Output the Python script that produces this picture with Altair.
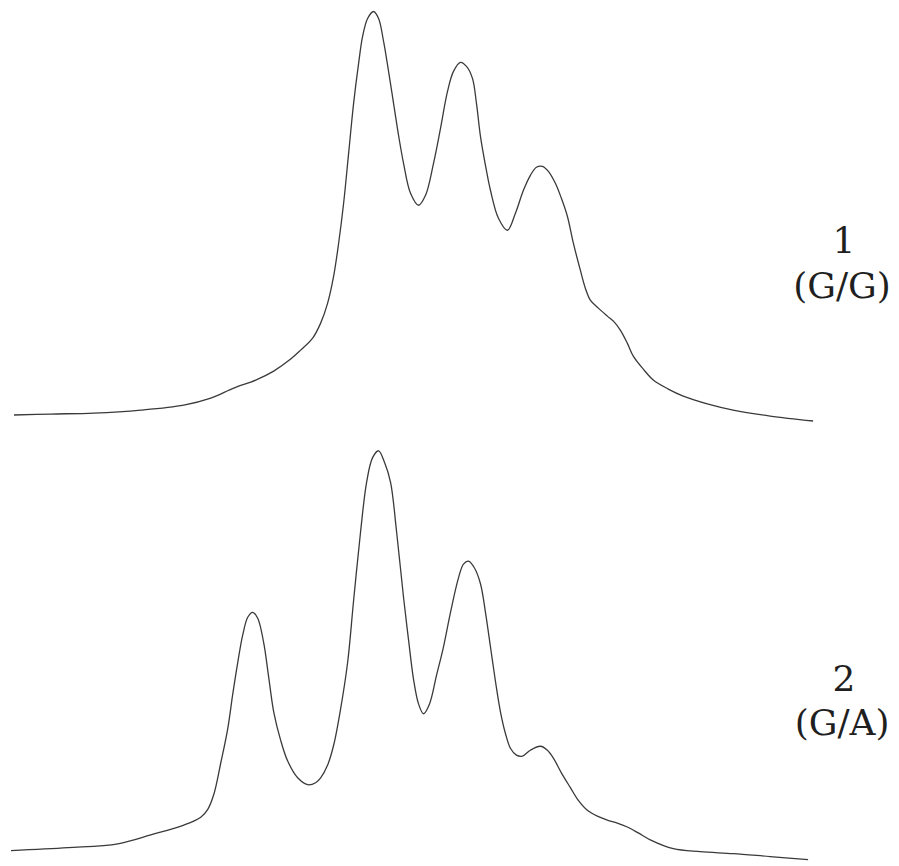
import altair as alt
import pandas as pd

# Trace 1 (G/G): elution position (a.u.) and detector signal (a.u.)
x_gg = [5, 42, 85, 132, 175, 202, 225, 247, 265, 282, 292, 304, 312, 319, 325, 330,
        335, 340, 345, 350, 354, 359, 365, 370, 375, 380, 385, 390, 395, 402, 410,
        417, 425, 432, 439, 445, 452, 458, 464, 468, 472, 477, 482, 490, 499, 507,
        515, 522, 528, 534, 540, 547, 553, 559, 565, 572, 577, 582, 590, 599, 606,
        612, 619, 625, 635, 645, 660, 675, 700, 725, 762, 805]
s_gg = [21, 22, 23, 26, 31, 38, 48, 56, 65, 77, 86, 98, 113, 133, 160, 193,
        233, 283, 333, 373, 400, 418, 425, 418, 395, 365, 333, 301, 273, 243, 231,
        241, 273, 308, 345, 365, 374, 370, 358, 333, 300, 271, 246, 218, 206, 223,
        246, 261, 269, 270, 265, 253, 238, 220, 193, 166, 148, 136, 128, 120, 114,
        106, 93, 80, 67, 56, 47, 40, 32, 26, 20, 15]

# Trace 2 (G/A)
x_ga = [2, 59, 109, 142, 175, 192, 199, 205, 212, 219, 224, 229, 234, 239, 244, 249,
        255, 260, 265, 272, 279, 289, 299, 307, 312, 319, 325, 332, 339, 345, 352,
        358, 364, 370, 376, 382, 388, 395, 400, 405, 410, 415, 421, 428, 435, 442,
        450, 455, 460, 466, 472, 477, 482, 487, 492, 497, 502, 508, 514, 522, 532,
        539, 545, 553, 562, 570, 579, 589, 599, 609, 619, 630, 642, 665, 692, 725,
        762, 800]
s_ga = [12, 15, 19, 28, 38, 46, 54, 69, 101, 136, 171, 203, 231, 249, 254, 248,
        223, 188, 153, 124, 103, 86, 79, 81, 86, 99, 119, 156, 203, 266, 336,
        386, 411, 418, 406, 386, 336, 269, 226, 186, 161, 151, 161, 190, 219, 254,
        289, 303, 306, 299, 283, 254, 219, 184, 153, 131, 116, 109, 108, 114, 118,
        114, 106, 91, 76, 63, 53, 47, 43, 40, 36, 30, 23, 14, 11, 9,
        6, 3]

labels_gg = ["1", "(G/G)"]
labels_ga = ["2", "(G/A)"]

LINE = "#3a3a3a"
FONT = "DejaVu Serif"


def panel(xs, ss, labels, h, ydom, y1, y2):
    df = pd.DataFrame({"pos": xs, "signal": ss})
    line = alt.Chart(df).mark_line(
        color=LINE, strokeWidth=1.3, interpolate="catmull-rom", clip=False
    ).encode(
        x=alt.X("pos:Q", axis=None, scale=alt.Scale(domain=[0, 883], nice=False, zero=False)),
        y=alt.Y("signal:Q", axis=None, scale=alt.Scale(domain=ydom, nice=False, zero=False)),
    )
    t1 = alt.Chart(pd.DataFrame({"t": [labels[0]]})).mark_text(
        font=FONT, fontSize=36, color="#1f1f1f", align="center", baseline="middle"
    ).encode(text="t:N", x=alt.value(836), y=alt.value(y1))
    t2 = alt.Chart(pd.DataFrame({"t": [labels[1]]})).mark_text(
        font=FONT, fontSize=36, color="#1f1f1f", align="center", baseline="middle"
    ).encode(text="t:N", x=alt.value(834), y=alt.value(y2))
    return alt.layer(line, t1, t2).properties(width=883, height=h)


top = panel(x_gg, s_gg, labels_gg, 425, [0, 425], 231, 276)
bottom = panel(x_ga, s_ga, labels_ga, 425, [2, 433], 244, 288)

chart = alt.vconcat(top, bottom, spacing=0).properties(
    padding=0, background="white"
).configure_view(stroke=None)

chart.save("out.html", embed_options={"renderer": "svg", "actions": False})
